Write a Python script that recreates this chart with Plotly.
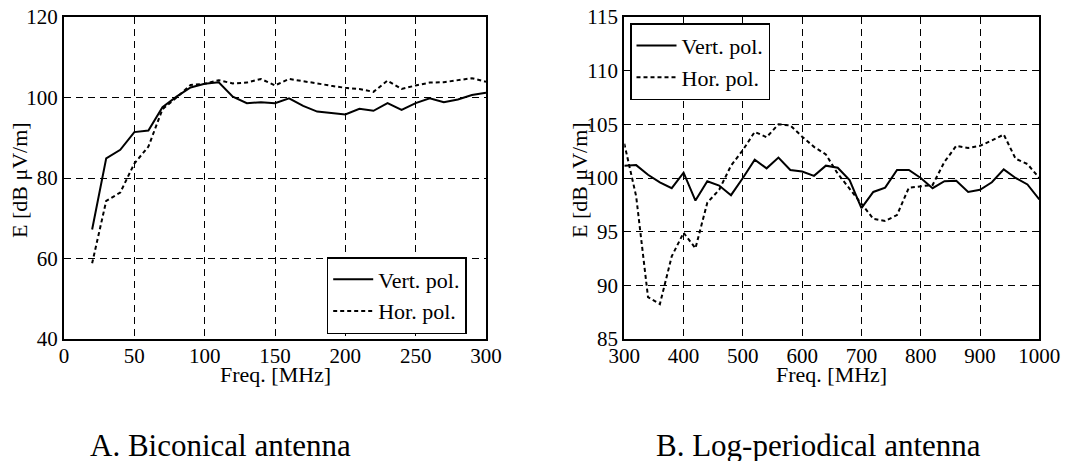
import plotly.graph_objects as go

# ---- data: A. Biconical antenna ----
freq_a = [20, 30, 40, 50, 60, 70, 80, 90, 100, 110, 120, 130, 140, 150, 160, 170,
          180, 190, 200, 210, 220, 230, 240, 250, 260, 270, 280, 290, 300]
vert_a = [67.2, 84.9, 87.0, 91.4, 91.8, 97.6, 100.2, 102.5, 103.4, 103.8, 100.2, 98.6,
          98.8, 98.6, 99.8, 97.9, 96.5, 96.1, 95.8, 97.2, 96.7, 98.6, 96.9, 98.6,
          99.8, 98.8, 99.5, 100.6, 101.2]
hor_a = [58.8, 74.3, 76.4, 83.6, 87.8, 97.1, 100.0, 103.1, 103.4, 104.3, 103.5, 103.7,
         104.6, 103.0, 104.6, 104.1, 103.5, 102.9, 102.4, 102.1, 101.4, 104.2, 102.1,
         103.0, 103.7, 103.8, 104.3, 104.8, 103.9]

# ---- data: B. Log-periodical antenna ----
freq_b = [300, 320, 340, 360, 380, 400, 420, 440, 460, 480, 500, 520, 540, 560, 580,
          600, 620, 640, 660, 680, 700, 720, 740, 760, 780, 800, 820, 840, 860, 880,
          900, 920, 940, 960, 980, 1000]
vert_b = [101.15, 101.2, 100.3, 99.6, 99.05, 100.5, 97.9, 99.7, 99.3, 98.4, 100.0, 101.7,
          100.9, 101.9, 100.75, 100.6, 100.2, 101.15, 100.95, 99.8, 97.2, 98.7, 99.1,
          100.75, 100.75, 100.0, 99.05, 99.7, 99.75, 98.7, 98.9, 99.6, 100.8, 100.0,
          99.4, 98.0]
hor_b = [103.2, 98.3, 88.9, 88.25, 92.7, 94.9, 93.45, 97.7, 98.9, 101.15, 102.6, 104.3,
         103.8, 105.0, 104.9, 103.85, 102.9, 102.2, 100.4, 99.0, 97.5, 96.2, 96.0,
         96.55, 99.1, 99.25, 99.35, 101.5, 103.0, 102.8, 103.0, 103.5, 104.05, 101.8,
         101.3, 100.0]

x_ticks_a = [0, 50, 100, 150, 200, 250, 300]
y_ticks_a = [40, 60, 80, 100, 120]
x_ticks_b = [300, 400, 500, 600, 700, 800, 900, 1000]
y_ticks_b = [85, 90, 95, 100, 105, 110, 115]

series_names = ["Vert. pol.", "Hor. pol."]
y_title = "E [dB μV/m]"
x_title = "Freq. [MHz]"
captions = ["A. Biconical antenna", "B. Log-periodical antenna"]

W, H = 1088, 461
FONT = "Liberation Serif, Times New Roman, serif"

fig = go.Figure()
solid = dict(color="black", width=2)
dashed = dict(color="black", width=2, dash="4px,3px")

fig.add_trace(go.Scatter(x=freq_a, y=vert_a, mode="lines", line=solid,
                         name=series_names[0], xaxis="x", yaxis="y", legend="legend"))
fig.add_trace(go.Scatter(x=freq_a, y=hor_a, mode="lines", line=dashed,
                         name=series_names[1], xaxis="x", yaxis="y", legend="legend"))
fig.add_trace(go.Scatter(x=freq_b, y=vert_b, mode="lines", line=solid,
                         name=series_names[0], xaxis="x2", yaxis="y2", legend="legend2"))
fig.add_trace(go.Scatter(x=freq_b, y=hor_b, mode="lines", line=dashed,
                         name=series_names[1], xaxis="x2", yaxis="y2", legend="legend2"))

y0 = 1 - 339 / H
y1 = 1 - 17 / H
axis_common = dict(showline=True, mirror=True, linecolor="black", linewidth=2,
                   showgrid=True, gridcolor="black", gridwidth=1, griddash="7px,5px",
                   zeroline=False, ticks="", automargin=False,
                   tickfont=dict(size=21, color="black", family=FONT))

legend_common = dict(bgcolor="white", bordercolor="black", borderwidth=1.5,
                     font=dict(size=22, family=FONT, color="black"),
                     tracegroupgap=0, itemwidth=40)

fig.update_layout(
    width=W, height=H, autosize=False,
    margin=dict(l=0, r=0, t=0, b=0, pad=0, autoexpand=False),
    paper_bgcolor="white", plot_bgcolor="white",
    font=dict(family=FONT, color="black", size=21),
    xaxis=dict(domain=[64 / W, 486 / W], range=[0, 300], tickvals=x_ticks_a,
               anchor="y", ticklabelstandoff=-3, **axis_common),
    yaxis=dict(domain=[y0, y1], range=[40, 120], tickvals=y_ticks_a,
               anchor="x", **axis_common),
    xaxis2=dict(domain=[624.3 / W, 1039.3 / W], range=[300, 1000], tickvals=x_ticks_b,
                anchor="y2", ticklabelstandoff=-3, **axis_common),
    yaxis2=dict(domain=[y0, y1], range=[85, 115], tickvals=y_ticks_b,
                anchor="x2", **axis_common),
    legend=dict(x=326.7 / W, y=1 - 334 / H, xanchor="left", yanchor="bottom",
                **legend_common),
    legend2=dict(x=630 / W, y=1 - 23.3 / H, xanchor="left", yanchor="top",
                 **legend_common),
    showlegend=True,
)

ann = []
# axis titles
ann.append(dict(text=x_title, x=(64 + 486) / 2 / W, y=1 - 374 / H))
ann.append(dict(text=x_title, x=(624.3 + 1039.3) / 2 / W, y=1 - 374 / H))
ann.append(dict(text=y_title, x=20 / W, y=1 - 180 / H, textangle=-90))
ann.append(dict(text=y_title, x=580 / W, y=1 - 180 / H, textangle=-90))
# captions
ann.append(dict(text=captions[0], x=220 / W, y=1 - 445 / H, font=dict(size=31, family=FONT)))
ann.append(dict(text=captions[1], x=818 / W, y=1 - 445 / H, font=dict(size=31, family=FONT)))
for a in ann:
    a.update(xref="paper", yref="paper", showarrow=False, xanchor="center", yanchor="middle")
    a.setdefault("font", dict(size=22, family=FONT))
fig.update_layout(annotations=ann)

fig.write_html(
    "out.html",
    config={"displayModeBar": False},
    post_script="document.body.style.margin='0';document.body.style.padding='0';"
                "document.body.style.overflow='hidden';",
)
